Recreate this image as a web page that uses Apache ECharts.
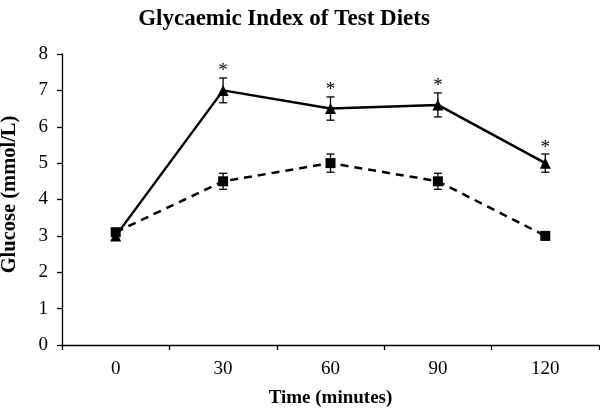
<!DOCTYPE html>
<html>
<head>
<meta charset="utf-8">
<script src="https://cdn.jsdelivr.net/npm/echarts@6/dist/echarts.min.js"></script>
<style>html,body{margin:0;padding:0;background:#fff}#c{width:600px;height:409px}</style>
</head>
<body>
<div id="c"></div>
<script>
var categories = ['0', '30', '60', '90', '120'];
var testMean = [3.0, 7.0, 6.5, 6.6, 5.0];
var testErr = [0.1, 0.34, 0.32, 0.33, 0.25];
var controlMean = [3.1, 4.5, 5.0, 4.5, 3.0];
var controlErr = [0.1, 0.22, 0.25, 0.22, 0.1];
var significance = ['', '*', '*', '*', '*'];
var yTicks = [0, 1, 2, 3, 4, 5, 6, 7, 8];

var serif = '"Liberation Serif", "DejaVu Serif", serif';

function errData(mean, err, sig) {
  return mean.map(function (m, i) { return [i, m - err[i], m + err[i], sig ? sig[i] : '']; });
}

function errRender(params, api) {
  var x = api.value(0);
  var lo = api.coord([x, api.value(1)]);
  var hi = api.coord([x, api.value(2)]);
  var w = 4;
  var style = { stroke: '#000', lineWidth: 1.3, fill: null };
  var children = [
    { type: 'line', shape: { x1: hi[0], y1: hi[1], x2: lo[0], y2: lo[1] }, style: style },
    { type: 'line', shape: { x1: hi[0] - w, y1: hi[1], x2: hi[0] + w, y2: hi[1] }, style: style },
    { type: 'line', shape: { x1: lo[0] - w, y1: lo[1], x2: lo[0] + w, y2: lo[1] }, style: style }
  ];
  var s = api.value(3);
  if (s) {
    children.push({
      type: 'text',
      style: { text: s, x: hi[0], y: hi[1] + 3, textAlign: 'center', textVerticalAlign: 'bottom',
               font: '19px ' + serif, fill: '#000' }
    });
  }
  return { type: 'group', children: children };
}

var chart = echarts.init(document.getElementById('c'), null, { renderer: 'canvas' });
chart.setOption({
  animation: false,
  backgroundColor: '#fff',
  title: {
    text: 'Glycaemic Index of Test Diets',
    left: 279, top: 3, textAlign: 'center',
    textStyle: { fontFamily: serif, fontWeight: 'bold', fontSize: 23, color: '#000' }
  },
  grid: { left: 62, right: 1, top: 54, bottom: 64, containLabel: false, outerBoundsMode: 'none' },
  xAxis: {
    type: 'category',
    data: categories,
    boundaryGap: true,
    name: 'Time (minutes)',
    nameLocation: 'middle',
    nameGap: 44,
    nameTextStyle: { fontFamily: serif, fontWeight: 'bold', fontSize: 19, color: '#000' },
    axisLine: { lineStyle: { color: '#000', width: 1.3 } },
    axisTick: { show: true, alignWithLabel: false, length: 5, lineStyle: { color: '#000', width: 1.3 } },
    axisLabel: { fontFamily: serif, fontSize: 19, color: '#000', margin: 15 },
    splitLine: { show: false }
  },
  yAxis: {
    type: 'value',
    min: 0, max: 8, interval: 1,
    name: 'Glucose (mmol/L)',
    nameLocation: 'middle',
    nameGap: 42,
    nameRotate: 90,
    nameTextStyle: { fontFamily: serif, fontWeight: 'bold', fontSize: 20.5, color: '#000', padding: [0, 0, 0, 10] },
    axisLine: { show: true, lineStyle: { color: '#000', width: 1.3 } },
    axisTick: { show: true, length: 5, lineStyle: { color: '#000', width: 1.3 } },
    axisLabel: { fontFamily: serif, fontSize: 19, color: '#000', margin: 14,
      formatter: function (v) { return yTicks.indexOf(v) >= 0 ? String(v) : ''; } },
    splitLine: { show: false }
  },
  series: [
    {
      name: 'Control', type: 'line', data: controlMean,
      symbol: 'rect', symbolSize: 10,
      lineStyle: { color: '#000', width: 2.5, type: [8, 6] },
      itemStyle: { color: '#000' }, z: 3
    },
    {
      name: 'Control err', type: 'custom', data: errData(controlMean, controlErr, null),
      renderItem: errRender, encode: { x: 0, y: [1, 2] }, z: 4
    },
    {
      name: 'Test', type: 'line', data: testMean,
      symbol: 'triangle', symbolSize: 11,
      lineStyle: { color: '#000', width: 2.5 },
      itemStyle: { color: '#000' }, z: 2
    },
    {
      name: 'Test err', type: 'custom', data: errData(testMean, testErr, significance),
      renderItem: errRender, encode: { x: 0, y: [1, 2] }, z: 4
    }
  ]
});
</script>
</body>
</html>
